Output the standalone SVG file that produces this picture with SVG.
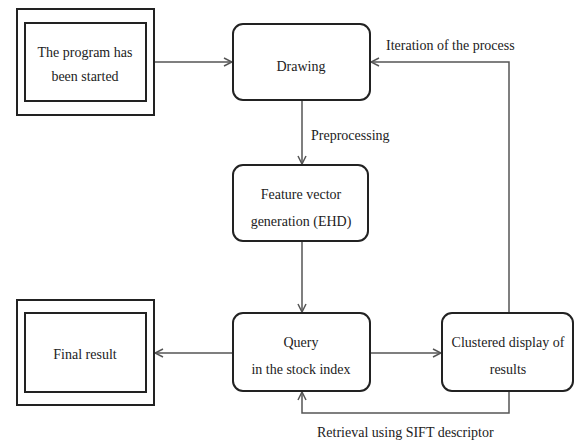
<svg xmlns="http://www.w3.org/2000/svg" width="575" height="444" viewBox="0 0 575 444" font-family="Liberation Serif, Times New Roman, Times, serif" font-size="14">
<defs>
<style>
.t{text-anchor:middle}
text{fill:#222}
.box{fill:#fff;stroke:#222;stroke-width:2}
.c{fill:none;stroke:#555;stroke-width:1.5}
</style>
<marker id="a" viewBox="0 0 10 10" refX="9" refY="5" markerWidth="10" markerHeight="10" markerUnits="userSpaceOnUse" orient="auto">
<path d="M1,1 L9,5 L1,9" fill="none" stroke="#555" stroke-width="1.5"/>
</marker>
</defs>
<rect width="575" height="444" fill="#fff"/>
<g id="connectors">
<line class="c" x1="154" y1="62" x2="232" y2="62" marker-end="url(#a)"/>
<polyline class="c" points="509,313 509,62 371,62" marker-end="url(#a)"/>
<line class="c" x1="302" y1="100" x2="302" y2="164" marker-end="url(#a)"/>
<line class="c" x1="302" y1="241" x2="302" y2="312" marker-end="url(#a)"/>
<line class="c" x1="233" y1="353" x2="155" y2="353" marker-end="url(#a)"/>
<line class="c" x1="370" y1="353" x2="441" y2="353" marker-end="url(#a)"/>
<polyline class="c" points="509,391 509,413 302,413 302,392" marker-end="url(#a)"/>
<text x="386" y="50" font-family="Liberation Serif">Iteration of the process</text>
<text x="311" y="140" font-family="Liberation Serif">Preprocessing</text>
<text x="317" y="437" font-family="Liberation Serif">Retrieval using SIFT descriptor</text>
</g>
<g id="start" font-family="Liberation Serif">
<rect class="box" x="17" y="9" width="137" height="106"/>
<rect class="box" x="25" y="23" width="121" height="78"/>
<text class="t" x="85" y="57">The program has</text>
<text class="t" x="85" y="81">been started</text>
</g>
<g id="drawing" font-family="Liberation Serif">
<rect class="box" x="233" y="24" width="137" height="76" rx="10"/>
<text class="t" x="301" y="71">Drawing</text>
</g>
<g id="feature" font-family="Liberation Serif">
<rect class="box" x="233" y="165" width="135" height="76" rx="10"/>
<text class="t" x="301" y="199">Feature vector</text>
<text class="t" x="301" y="226">generation (EHD)</text>
</g>
<g id="query" font-family="Liberation Serif">
<rect class="box" x="233" y="313" width="137" height="78" rx="10"/>
<text class="t" x="301" y="347">Query</text>
<text class="t" x="301" y="374">in the stock index</text>
</g>
<g id="final" font-family="Liberation Serif">
<rect class="box" x="17" y="300" width="137" height="105"/>
<rect class="box" x="25" y="313" width="121" height="79"/>
<text class="t" x="85" y="359">Final result</text>
</g>
<g id="clustered" font-family="Liberation Serif">
<rect class="box" x="442" y="313" width="131" height="78" rx="10"/>
<text class="t" x="508" y="347">Clustered display of</text>
<text class="t" x="508" y="374">results</text>
</g>
</svg>
